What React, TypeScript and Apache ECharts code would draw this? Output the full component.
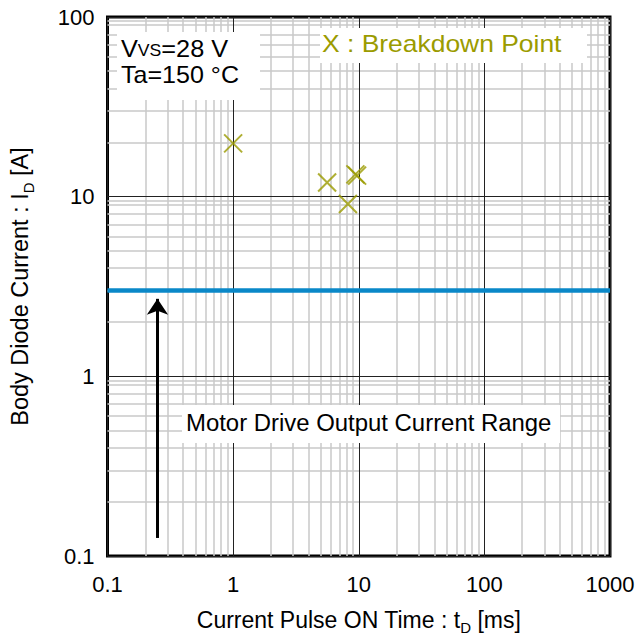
import React, { useEffect, useRef } from "react";
import * as echarts from "echarts";

// ---- data ----
const xTickLabels = ["0.1", "1", "10", "100", "1000"];
const yTickLabels = ["0.1", "1", "10", "100"];
const xDecades = [0.1, 1, 10, 100];
const yDecades = [0.1, 1, 10];
const minorMultipliers = [2, 3, 4, 5, 6, 7, 8, 9];
const yExtraGrid = [0.95, 9.5, 95];
const breakdownTime = [1, 5.6, 8.2, 9.4, 9.7]; // ms
const breakdownCurrent = [19.8, 12.0, 9.1, 13.3, 13.1]; // A
const motorDriveCurrent = 3; // A
const arrowTime = 0.25;
const arrowFrom = 0.126;
const arrowTo = 2.7;

const FONT = "'Liberation Sans', Arial, Helvetica, sans-serif";
const OLIVE = "#9b9b00";
const BLUE = "#0a88c8";

export default function App() {
  const ref = useRef<HTMLDivElement>(null);
  useEffect(() => {
    document.body.style.margin = "0";
    if (!ref.current) return;
    const chart = echarts.init(ref.current, null, { renderer: "svg" });

    const xMinor: number[] = [];
    xDecades.forEach((d) => minorMultipliers.forEach((m) => xMinor.push(+(d * m).toPrecision(3))));
    const yMinor: number[] = [];
    yDecades.forEach((d) => minorMultipliers.forEach((m) => yMinor.push(+(d * m).toPrecision(3))));
    const xMin = parseFloat(xTickLabels[0]);
    const xMax = parseFloat(xTickLabels[xTickLabels.length - 1]);
    const yMin = parseFloat(yTickLabels[0]);
    const yMax = parseFloat(yTickLabels[yTickLabels.length - 1]);

    const mlBase = {
      silent: true,
      symbol: "none",
      label: { show: false },
      emphasis: { disabled: true },
      animation: false,
    };

    const subRich = { sub: { fontSize: 15, fontFamily: FONT, color: "#000", padding: [16, 0, 0, 0] } };

    const option: any = {
      animation: false,
      grid: {
        left: 107,
        right: 28,
        top: 17,
        bottom: 85,
        show: true,
        borderColor: "#000",
        borderWidth: 3,
        backgroundColor: "transparent",
      },
      xAxis: {
        type: "log",
        logBase: 10,
        min: xMin,
        max: xMax,
        name: "Current Pulse ON Time : t{sub|D} [ms]",
        nameLocation: "middle",
        nameGap: 48,
        nameTextStyle: { fontSize: 23, color: "#000", fontFamily: FONT, rich: subRich },
        axisLine: { show: false },
        axisTick: { show: false },
        axisLabel: {
          fontSize: 22,
          color: "#000",
          fontFamily: FONT,
          margin: 17,
          showMinLabel: true,
          showMaxLabel: true,
          formatter: (v: number) => {
            const i = xTickLabels.findIndex((t) => Math.abs(parseFloat(t) - v) < 1e-9 * Math.max(1, v));
            return i >= 0 ? xTickLabels[i] : String(v);
          },
        },
        splitLine: { show: true, lineStyle: { color: "#222", width: 1 } },
      },
      yAxis: {
        type: "log",
        logBase: 10,
        min: yMin,
        max: yMax,
        name: "Body Diode Current : I{sub|D} [A]",
        nameLocation: "middle",
        nameGap: 72,
        nameTextStyle: { fontSize: 23.5, color: "#000", fontFamily: FONT, rich: subRich },
        axisLine: { show: false },
        axisTick: { show: false },
        axisLabel: {
          fontSize: 22,
          color: "#000",
          fontFamily: FONT,
          margin: 13,
          showMinLabel: true,
          showMaxLabel: true,
          formatter: (v: number) => {
            const i = yTickLabels.findIndex((t) => Math.abs(parseFloat(t) - v) < 1e-9 * Math.max(1, v));
            return i >= 0 ? yTickLabels[i] : String(v);
          },
        },
        splitLine: { show: true, lineStyle: { color: "#222", width: 1 } },
      },
      series: [
        {
          type: "line",
          data: [],
          z: 1,
          markLine: {
            ...mlBase,
            lineStyle: { color: "#c8c8c8", width: 1.5, type: "solid" },
            data: [
              ...xMinor.map((v) => ({ xAxis: v })),
              ...yMinor.map((v) => ({ yAxis: v })),
              ...yExtraGrid.map((v) => ({ yAxis: v })),
            ],
          },
        },
        {
          type: "line",
          data: [],
          z: 2,
          markLine: {
            ...mlBase,
            lineStyle: { color: "#222", width: 1, type: "solid" },
            data: [
              ...xDecades.slice(1).map((v) => ({ xAxis: v })),
              ...yDecades.slice(1).map((v) => ({ yAxis: v })),
            ],
          },
        },
        {
          type: "line",
          data: [],
          z: 3,
          markLine: {
            ...mlBase,
            lineStyle: { color: BLUE, width: 4.5, type: "solid" },
            data: [{ yAxis: motorDriveCurrent }],
          },
        },
        {
          type: "line",
          data: [],
          z: 4,
          markLine: {
            ...mlBase,
            symbol: ["none", "arrow"],
            symbolSize: 16,
            lineStyle: { color: "#000", width: 3, type: "solid" },
            itemStyle: { color: "#000" },
            data: [[{ coord: [arrowTime, arrowFrom] }, { coord: [arrowTime, arrowTo] }]],
          },
        },
        {
          type: "scatter",
          z: 5,
          symbol: "path://M0,0L10,10M10,0L0,10",
          symbolSize: 18,
          silent: true,
          itemStyle: { color: "none", borderColor: OLIVE, borderWidth: 2 },
          data: breakdownTime.map((t, i) => [t, breakdownCurrent[i]]),
        },
      ],
      graphic: [
        { type: "rect", z: 100, shape: { x: 117, y: 32, width: 143, height: 68 }, style: { fill: "#fff" } },
        {
          type: "text",
          z: 101,
          x: 121,
          y: 48.5,
          scaleX: 1.1,
          style: {
            x: 0,
            y: 0,
            text: "{v|V}{s|VS}{v|=28 V}",
            align: "left",
            verticalAlign: "middle",
            fill: "#000",
            rich: {
              v: { fontSize: 23, fontFamily: FONT, fill: "#000" },
              s: { fontSize: 16, fontFamily: FONT, fill: "#000", padding: [4, 0, 0, 0] },
            },
          },
        },
        {
          type: "text",
          z: 101,
          x: 121,
          y: 74.5,
          scaleX: 1.09,
          style: {
            x: 0,
            y: 0,
            text: "Ta=150 °C",
            font: `23px ${FONT}`,
            align: "left",
            verticalAlign: "middle",
            fill: "#000",
          },
        },
        { type: "rect", z: 100, shape: { x: 320, y: 28, width: 267, height: 35 }, style: { fill: "#fff" } },
        {
          type: "text",
          z: 101,
          x: 322,
          y: 44.3,
          scaleX: 1.15,
          style: {
            x: 0,
            y: 0,
            text: "X : Breakdown Point",
            font: `23px ${FONT}`,
            align: "left",
            verticalAlign: "middle",
            fill: OLIVE,
          },
        },
        { type: "rect", z: 100, shape: { x: 182, y: 405, width: 378, height: 38 }, style: { fill: "#fff" } },
        {
          type: "text",
          z: 101,
          x: 186,
          y: 423.3,
          scaleX: 1.04,
          style: {
            x: 0,
            y: 0,
            text: "Motor Drive Output Current Range",
            font: `23px ${FONT}`,
            align: "left",
            verticalAlign: "middle",
            fill: "#000",
          },
        },
      ],
    };
    chart.setOption(option);
    return () => chart.dispose();
  }, []);
  return <div ref={ref} style={{ width: 638, height: 641, background: "#fff" }} />;
}
